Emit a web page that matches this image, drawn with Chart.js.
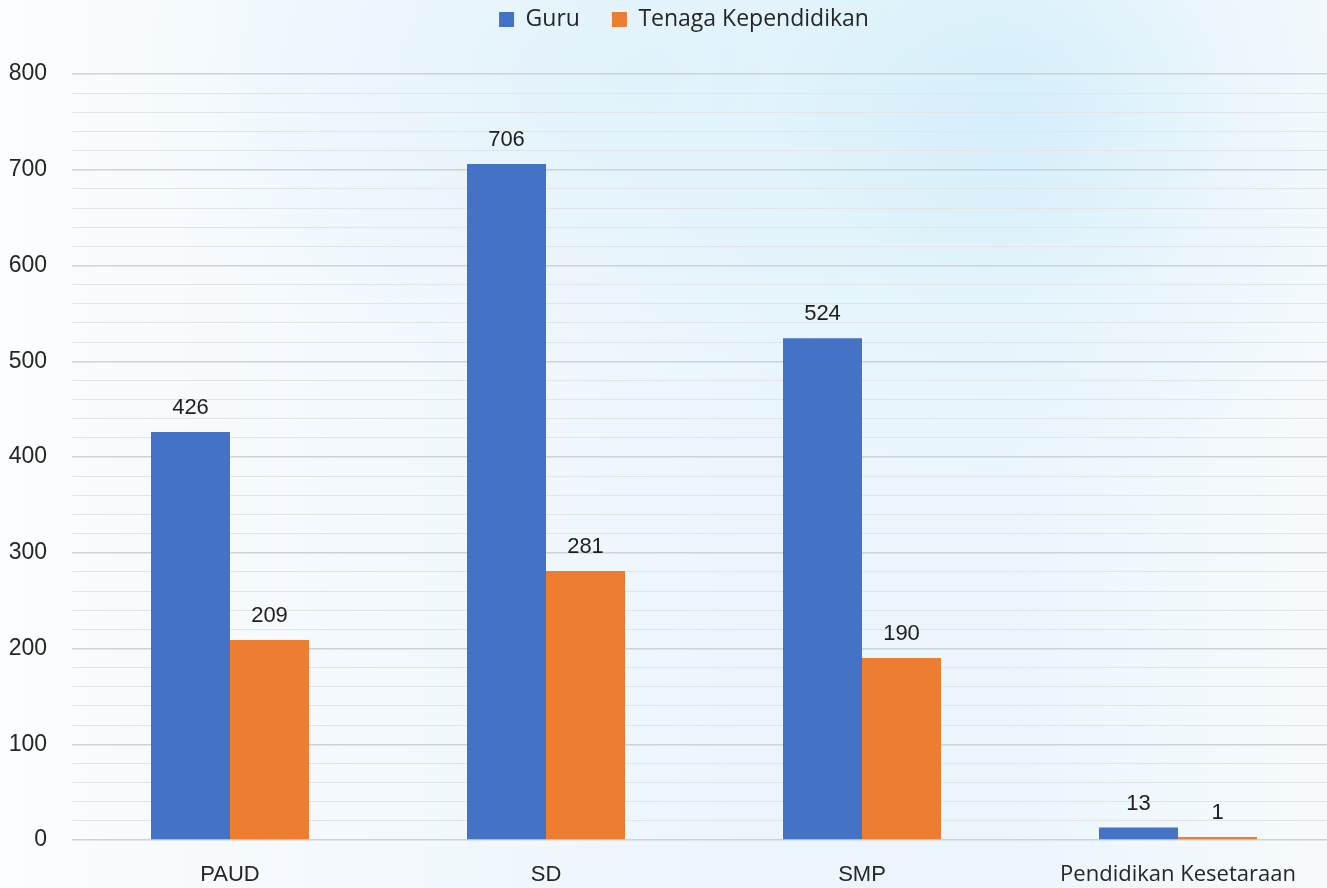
<!DOCTYPE html>
<html>
<head>
<meta charset="utf-8">
<script src="https://cdn.jsdelivr.net/npm/chart.js@4/dist/chart.umd.min.js"></script>
<style>
  html, body { margin: 0; padding: 0; overflow: hidden; width: 1327px; height: 888px; }
  #wrap {
    position: relative; width: 1340px; height: 888px;
    background:
      radial-gradient(ellipse 420px 360px at 1010px 120px, rgba(205,236,250,0.75) 0%, rgba(220,242,251,0.35) 55%, rgba(255,255,255,0) 100%),
      radial-gradient(ellipse 500px 300px at 620px 80px, rgba(215,239,250,0.55) 0%, rgba(255,255,255,0) 100%),
      linear-gradient(to right, #fbfdfe 0%, #f4f9fd 25%, #ebf6fc 55%, #eaf6fc 75%, #f3f9fc 92%, #f7fafc 100%);
  }
  canvas { display: block; }
</style>
</head>
<body>
<div id="wrap"><canvas id="c" width="1340" height="888"></canvas></div>
<script>
const categories = ["PAUD", "SD", "SMP", "Pendidikan Kesetaraan"];
const guru = [426, 706, 524, 13];
const tenagaKependidikan = [209, 281, 190, 1];
const seriesNames = ["Guru", "Tenaga Kependidikan"];
const yTickLabels = [0, 100, 200, 300, 400, 500, 600, 700, 800];

const valueLabels = {
  id: 'valueLabels',
  afterDatasetsDraw(chart) {
    const ctx = chart.ctx;
    ctx.save();
    ctx.font = '22px "Liberation Sans", Arial, sans-serif';
    ctx.fillStyle = '#1e1e1e';
    ctx.textAlign = 'center';
    ctx.textBaseline = 'alphabetic';
    chart.data.datasets.forEach((ds, i) => {
      const meta = chart.getDatasetMeta(i);
      meta.data.forEach((bar, j) => {
        ctx.fillText(String(ds.data[j]), bar.x, bar.y - 18);
      });
    });
    ctx.restore();
  }
};

const legendSpace = {
  id: 'legendSpace',
  afterInit(chart) {
    const lg = chart.legend;
    if (lg && !lg._patched) {
      const f = lg.fit;
      lg.fit = function () { f.call(this); this.height += 33; };
      const d = lg.draw;
      lg.draw = function () {
        const ctx = this.ctx;
        ctx.save();
        ctx.translate(16, 0);
        d.call(this);
        ctx.restore();
      };
      lg._patched = true;
    }
  }
};

new Chart(document.getElementById('c'), {
  type: 'bar',
  data: {
    labels: categories,
    datasets: [
      { label: seriesNames[0], data: guru, backgroundColor: '#4472C4', borderWidth: 0,
        categoryPercentage: 0.5, barPercentage: 1.0 },
      { label: seriesNames[1], data: tenagaKependidikan, backgroundColor: '#ED7D31', borderWidth: 0,
        categoryPercentage: 0.5, barPercentage: 1.0, minBarLength: 3 }
    ]
  },
  options: {
    responsive: false,
    animation: false,
    layout: { padding: { top: -24, right: 4, bottom: 0, left: 0 } },
    plugins: {
      legend: {
        position: 'top',
        align: 'center',
        labels: {
          boxWidth: 15, boxHeight: 15, padding: 32,
          color: '#262626',
          font: { family: '"Open Sans", sans-serif', size: 23 }
        }
      },
      tooltip: { enabled: false }
    },
    scales: {
      x: {
        grid: { display: false, drawTicks: false },
        border: { display: false },
        ticks: {
          color: '#262626', padding: 22,
          font: (c) => (c.index === 3)
            ? { family: '"Open Sans", sans-serif', size: 22 }
            : { family: '"Liberation Sans", Arial, sans-serif', size: 22 },
          maxRotation: 0, autoSkip: false
        },
        afterFit: (s) => { s.height = 48; }
      },
      y: {
        min: 0, max: 800,
        border: { display: false },
        grid: {
          drawTicks: false,
          color: (c) => (c.tick && yTickLabels.includes(c.tick.value)) ? '#cfd2d4' : '#e2e5e7',
          lineWidth: (c) => (c.tick && yTickLabels.includes(c.tick.value)) ? 1.5 : 1
        },
        ticks: {
          stepSize: 20, autoSkip: false, padding: 25,
          color: '#262626',
          font: { family: '"Liberation Sans", Arial, sans-serif', size: 23 },
          callback: (v) => yTickLabels.includes(v) ? String(v) : ''
        },
        afterFit: (s) => { s.width = 72; }
      }
    }
  },
  plugins: [valueLabels, legendSpace]
});
</script>
</body>
</html>
